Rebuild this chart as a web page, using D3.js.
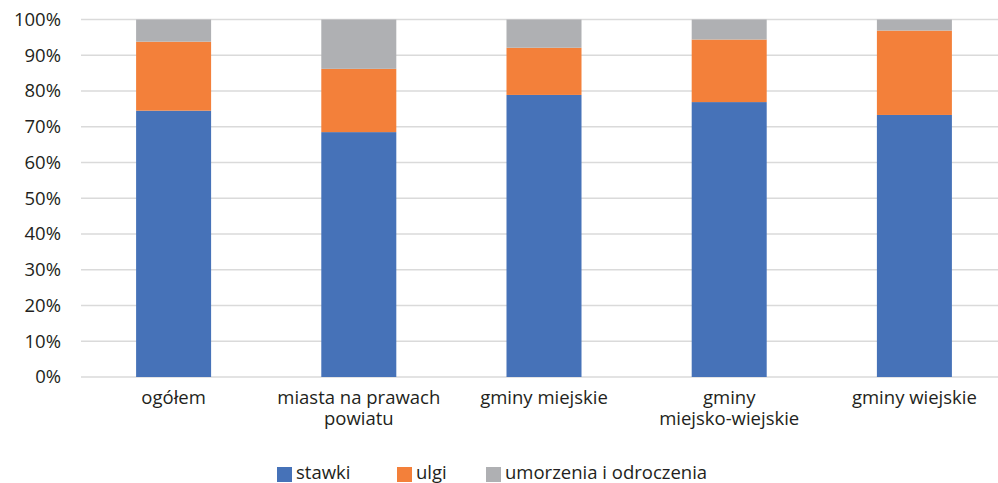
<!DOCTYPE html>
<html>
<head>
<meta charset="utf-8">
<script src="https://cdn.jsdelivr.net/npm/d3@7"></script>
<style>
  body { margin: 0; background: #fff; }
  text { font-family: "Open Sans", sans-serif; fill: #231F20; }
</style>
</head>
<body>
<div id="chart"></div>
<script>
var svgWidth = 998;
var svgHeight = 483;

// data (shares in %)
var categories = ["ogółem", "miasta na prawach powiatu", "gminy miejskie", "gminy miejsko-wiejskie", "gminy wiejskie"];
var categoryLines = [["ogółem"], ["miasta na prawach", "powiatu"], ["gminy miejskie"], ["gminy", "miejsko-wiejskie"], ["gminy wiejskie"]];
var seriesNames = ["stawki", "ulgi", "umorzenia i odroczenia"];
var stawki = [74.5, 68.5, 78.9, 76.9, 73.3];
var ulgi = [19.3, 17.7, 13.2, 17.5, 23.6];
var umorzenia = [6.2, 13.8, 7.9, 5.6, 3.1];
var yTicks = [0, 10, 20, 30, 40, 50, 60, 70, 80, 90, 100];
var colors = ["#4672B8", "#F3803A", "#AFB0B3"];

var margin = { top: 19.5, right: -9, bottom: 106, left: 81 };
var width = svgWidth - margin.left - margin.right;
var height = svgHeight - margin.top - margin.bottom;

var svg = d3.select("#chart")
    .append("svg")
    .attr("width", svgWidth)
    .attr("height", svgHeight);

var chartGroup = svg.append("g")
    .attr("transform", `translate(${margin.left}, ${margin.top})`);

var rows = categories.map((c, i) => ({
    cat: c, stawki: stawki[i], ulgi: ulgi[i], umorzenia: umorzenia[i]
}));

var stack = d3.stack().keys(["stawki", "ulgi", "umorzenia"]);
var stacked = stack(rows);

var xScale = d3.scaleBand()
    .domain(categories)
    .range([0, width])
    .paddingInner(0.595)
    .paddingOuter(0.2975);

var yScale = d3.scaleLinear()
    .domain([0, 100])
    .range([height, 0]);

// gridlines
chartGroup.append("g")
    .selectAll("line")
    .data(yTicks)
    .enter()
    .append("line")
    .attr("x1", 0)
    .attr("x2", width)
    .attr("y1", d => yScale(d))
    .attr("y2", d => yScale(d))
    .attr("stroke", "#DADADA")
    .attr("stroke-width", 1.5);

// y axis labels
var leftAxis = d3.axisLeft(yScale)
    .tickValues(yTicks)
    .tickFormat(d => d + "%")
    .tickSize(0)
    .tickPadding(20);

chartGroup.append("g")
    .call(leftAxis)
    .call(g => g.select(".domain").remove())
    .selectAll("text")
    .style("font-size", "18.5px")
    .attr("fill", "#231F20");

// bars
chartGroup.selectAll(".series")
    .data(stacked)
    .enter()
    .append("g")
    .attr("fill", (d, i) => colors[i])
    .selectAll("rect")
    .data(d => d)
    .enter()
    .append("rect")
    .attr("x", d => xScale(d.data.cat))
    .attr("width", xScale.bandwidth())
    .attr("y", d => yScale(d[1]))
    .attr("height", d => yScale(d[0]) - yScale(d[1]));

// category labels, one text per line
categories.forEach((d, i) => {
    categoryLines[i].forEach((line, j) => {
        chartGroup.append("text")
            .attr("text-anchor", "middle")
            .attr("x", xScale(d) + xScale.bandwidth() / 2)
            .attr("y", height + 27 + j * 20.5)
            .style("font-size", "18.5px")
            .text(line);
    });
});

// legend
var legendX = [277, 397, 486];
var legend = svg.append("g");
seriesNames.forEach((name, i) => {
    legend.append("rect")
        .attr("x", legendX[i])
        .attr("y", 467)
        .attr("width", 15)
        .attr("height", 15)
        .attr("fill", colors[i]);
    legend.append("text")
        .attr("x", legendX[i] + 19)
        .attr("y", 479)
        .style("font-size", "18.5px")
        .text(name);
});
</script>
</body>
</html>
